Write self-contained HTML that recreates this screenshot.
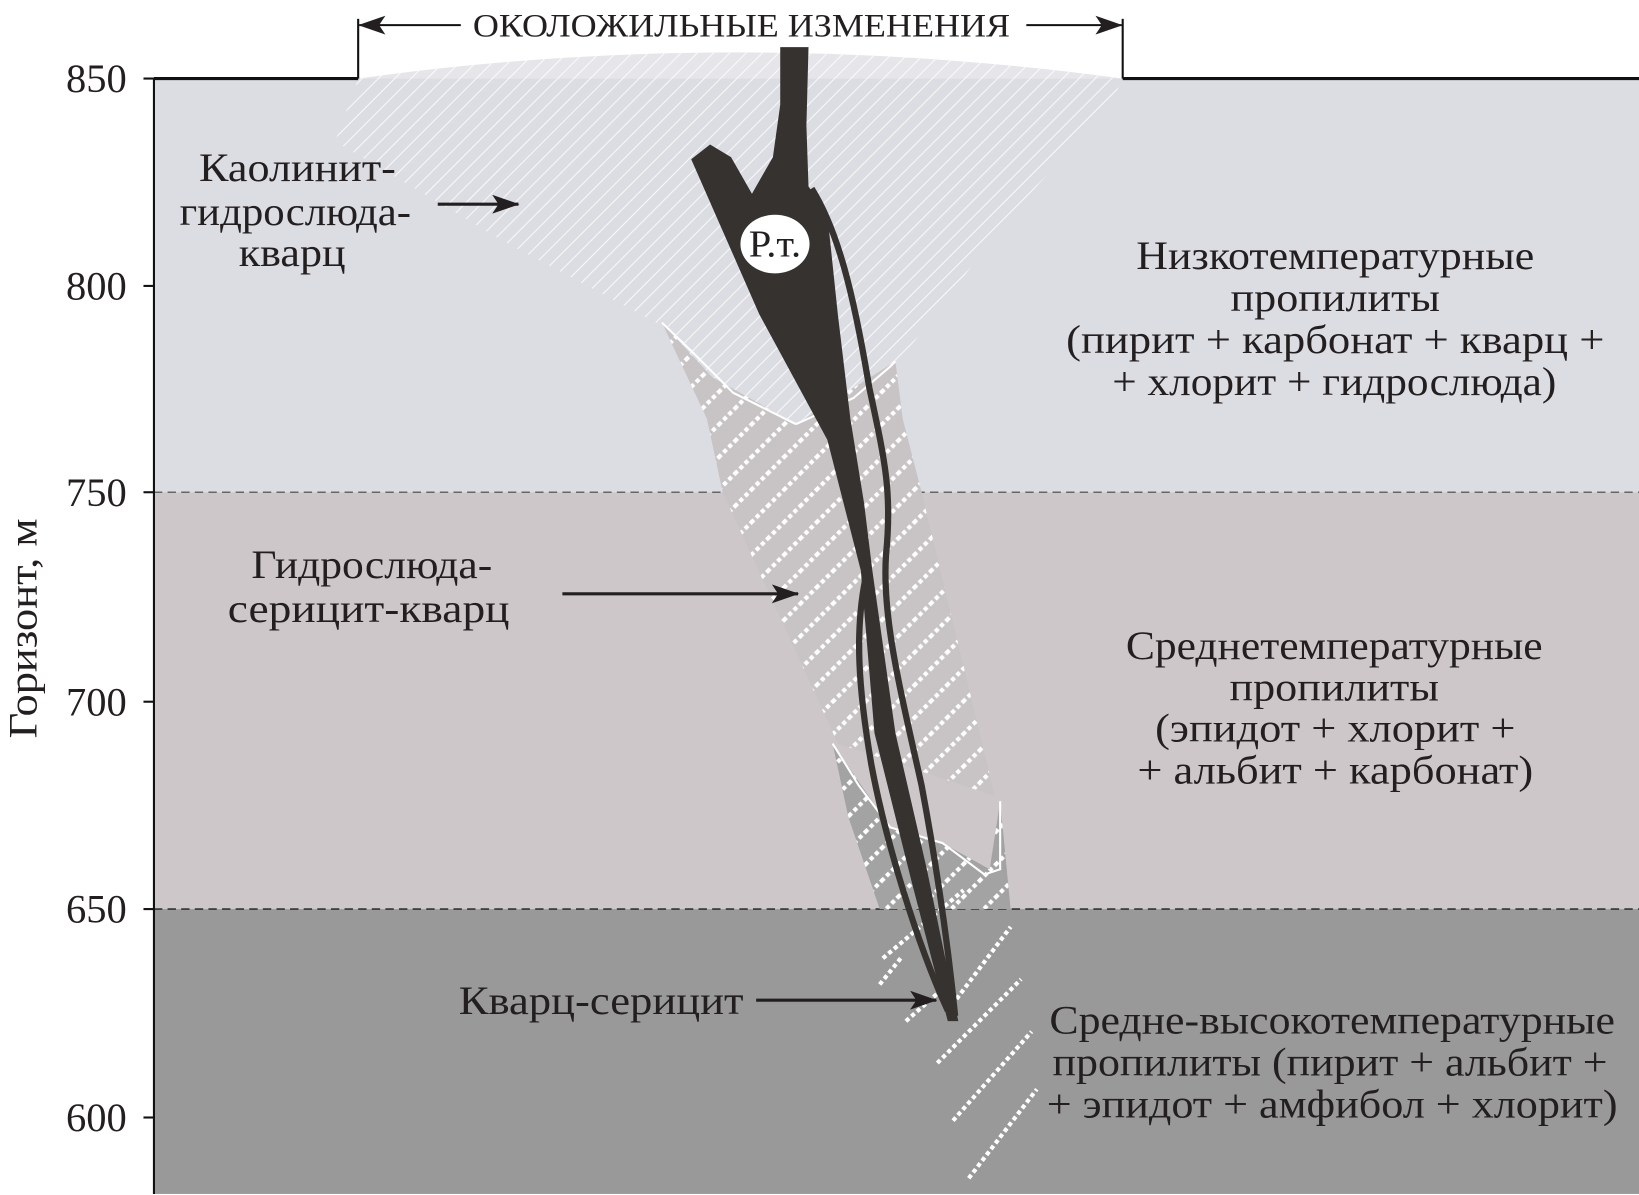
<!DOCTYPE html>
<html><head><meta charset="utf-8"><style>
html,body{margin:0;padding:0;background:#fff;}
svg{display:block;}
text{font-family:"Liberation Serif",serif;fill:#231f20;}
</style></head><body>
<svg width="1639" height="1195" viewBox="0 0 1565 1141" preserveAspectRatio="none" xmlns="http://www.w3.org/2000/svg">
<defs>
<pattern id="h1" width="11" height="11" patternUnits="userSpaceOnUse" patternTransform="rotate(-45)">
<line x1="0" y1="0" x2="11" y2="0" stroke="#fff" stroke-width="2" opacity="0.8"/>
</pattern>
<pattern id="h2" width="22" height="22" patternUnits="userSpaceOnUse" patternTransform="rotate(-45)">
<line x1="0" y1="2" x2="22" y2="2" stroke="#fff" stroke-width="4" stroke-dasharray="4 3"/>
</pattern>
<marker id="ar2" markerWidth="26" markerHeight="18" refX="25" refY="9" orient="auto" markerUnits="userSpaceOnUse">
<path d="M0,0 L26,9 L0,18 L6,9 Z" fill="#231f20"/>
</marker>
</defs>
<rect x="147" y="75" width="1418" height="395" fill="#dcdde2"/>
<rect x="147" y="470" width="1418" height="398" fill="#cdc7ca"/>
<rect x="147" y="868" width="1418" height="272" fill="#999999"/>
<line x1="147" y1="470" x2="1565" y2="470" stroke="#666" stroke-width="1.5" stroke-dasharray="8 5"/>
<line x1="147" y1="868" x2="1565" y2="868" stroke="#333" stroke-width="1.5" stroke-dasharray="8 5"/>
<path d="M342,75 Q700,25 1072,75 Z" fill="#e6e6ea"/>
<path d="M342,75 Q700,25 1072,75 L1060,100 L970,200 L900,290 L855,350 L790,420 L700,380 L630,310 L480,230 L320,135 Z" fill="url(#h1)"/>
<path d="M632,308 L680,360 L760,405 L855,345 L862,400 L880,470 L950,760 L800,710 L690,470 L675,400 Z" fill="#c8c4c6"/>
<path d="M632,308 L680,360 L760,405 L855,345 L862,400 L880,470 L950,760 L800,710 L690,470 L675,400 Z" fill="url(#h2)"/>
<path d="M632,308 L660,335 L700,375 L760,405" fill="none" stroke="#fff" stroke-width="2"/>
<path d="M760,405 L815,380 L850,350 L855,345" fill="none" stroke="#fff" stroke-width="2"/>
<path d="M795,710 L810,780 L840,868 L965,868 L955,765 L945,830 L900,805 L850,790 Z" fill="#a3a3a3"/>
<path d="M795,710 L810,780 L840,868 L965,868 L955,765 L945,830 L900,805 L850,790 Z" fill="url(#h2)"/>
<path d="M795,710 L820,750 L850,790 L900,805 L940,835 L955,830 L955,765" fill="none" stroke="#fff" stroke-width="2"/>
<g stroke="#fff" stroke-width="4" stroke-dasharray="4 3">
<line x1="843" y1="915" x2="920" y2="850"/>
<line x1="865" y1="975" x2="905" y2="940"/>
<line x1="905" y1="965" x2="965" y2="885"/>
<line x1="895" y1="1015" x2="975" y2="935"/>
<line x1="910" y1="1070" x2="985" y2="985"/>
<line x1="925" y1="1125" x2="990" y2="1040"/>
<line x1="840" y1="940" x2="860" y2="915"/>
</g>
<path d="M745,45 L772,45 L770,120 L772,178 L790,205 L800,300 L812,400 L825,480 L833,545 L855,700 L885,830 L915,975 L905,975 L870,840 L835,700 L822,545 L790,420 L725,300 L660,152 L678,138 L698,150 L718,185 L738,150 L745,100 Z" fill="#353230"/>
<g fill="none" stroke="#353230" stroke-width="6">
<path d="M775,180 C800,220 815,280 830,370 C845,440 852,470 846,530 C842,590 860,660 880,750 C895,830 905,900 912,970"/>
<path d="M828,545 C815,600 820,660 832,730 C845,800 875,900 905,965"/>
</g>
<ellipse cx="740" cy="233" rx="33" ry="28" fill="#fff"/>
<text x="740" y="245" font-size="36" text-anchor="middle" textLength="50" lengthAdjust="spacingAndGlyphs">Р.т.</text>
<line x1="147" y1="75" x2="342" y2="75" stroke="#111" stroke-width="3"/>
<line x1="1072" y1="75" x2="1565" y2="75" stroke="#111" stroke-width="3"/>
<line x1="147" y1="75" x2="147" y2="1140" stroke="#111" stroke-width="2"/>
<g stroke="#111" stroke-width="2">
<line x1="137" y1="75" x2="147" y2="75"/><line x1="137" y1="273" x2="147" y2="273"/>
<line x1="137" y1="470" x2="147" y2="470"/><line x1="137" y1="670" x2="147" y2="670"/>
<line x1="137" y1="868" x2="147" y2="868"/><line x1="137" y1="1067" x2="147" y2="1067"/>
</g>
<g font-size="38" text-anchor="end">
<text x="121" y="88" textLength="58" lengthAdjust="spacingAndGlyphs">850</text>
<text x="121" y="286" textLength="58" lengthAdjust="spacingAndGlyphs">800</text>
<text x="121" y="483" textLength="58" lengthAdjust="spacingAndGlyphs">750</text>
<text x="121" y="683" textLength="58" lengthAdjust="spacingAndGlyphs">700</text>
<text x="121" y="881" textLength="58" lengthAdjust="spacingAndGlyphs">650</text>
<text x="121" y="1080" textLength="58" lengthAdjust="spacingAndGlyphs">600</text>
</g>
<text x="0" y="0" font-size="38" text-anchor="middle" textLength="210" lengthAdjust="spacingAndGlyphs" transform="translate(35,600) rotate(-90)">Горизонт, м</text>
<line x1="342" y1="18" x2="342" y2="75" stroke="#111" stroke-width="2"/>
<line x1="1072" y1="18" x2="1072" y2="75" stroke="#111" stroke-width="2"/>
<line x1="440" y1="24" x2="343" y2="24" stroke="#111" stroke-width="2" marker-end="url(#ar2)"/>
<line x1="980" y1="24" x2="1071" y2="24" stroke="#111" stroke-width="2" marker-end="url(#ar2)"/>
<text x="708" y="35" font-size="31" text-anchor="middle" textLength="513" lengthAdjust="spacingAndGlyphs">ОКОЛОЖИЛЬНЫЕ ИЗМЕНЕНИЯ</text>
<g font-size="38" text-anchor="middle" lengthAdjust="spacingAndGlyphs">
<text x="284" y="173" textLength="188" lengthAdjust="spacingAndGlyphs">Каолинит-</text>
<text x="282" y="215" textLength="221" lengthAdjust="spacingAndGlyphs">гидрослюда-</text>
<text x="279" y="254" textLength="102" lengthAdjust="spacingAndGlyphs">кварц</text>
<text x="1275" y="257" textLength="380" lengthAdjust="spacingAndGlyphs">Низкотемпературные</text>
<text x="1275" y="297" textLength="200" lengthAdjust="spacingAndGlyphs">пропилиты</text>
<text x="1275" y="337" textLength="514" lengthAdjust="spacingAndGlyphs">(пирит + карбонат + кварц +</text>
<text x="1274" y="377" textLength="424" lengthAdjust="spacingAndGlyphs">+ хлорит + гидрослюда)</text>
<text x="355" y="552" textLength="230" lengthAdjust="spacingAndGlyphs">Гидрослюда-</text>
<text x="352" y="594" textLength="269" lengthAdjust="spacingAndGlyphs">серицит-кварц</text>
<text x="1274" y="629" textLength="398" lengthAdjust="spacingAndGlyphs">Среднетемпературные</text>
<text x="1274" y="669" textLength="200" lengthAdjust="spacingAndGlyphs">пропилиты</text>
<text x="1275" y="708" textLength="344" lengthAdjust="spacingAndGlyphs">(эпидот + хлорит +</text>
<text x="1275" y="748" textLength="378" lengthAdjust="spacingAndGlyphs">+ альбит + карбонат)</text>
<text x="574" y="968" textLength="272" lengthAdjust="spacingAndGlyphs">Кварц-серицит</text>
<text x="1272" y="987" textLength="540" lengthAdjust="spacingAndGlyphs">Средне-высокотемпературные</text>
<text x="1270" y="1027" textLength="530" lengthAdjust="spacingAndGlyphs">пропилиты (пирит + альбит +</text>
<text x="1272" y="1067" textLength="545" lengthAdjust="spacingAndGlyphs">+ эпидот + амфибол + хлорит)</text>
</g>
<g stroke="#231f20" stroke-width="3">
<line x1="418" y1="195" x2="495" y2="195" marker-end="url(#ar2)"/>
<line x1="537" y1="567" x2="762" y2="567" marker-end="url(#ar2)"/>
<line x1="722" y1="955" x2="894" y2="955" marker-end="url(#ar2)"/>
</g>
</svg>
</body></html>
